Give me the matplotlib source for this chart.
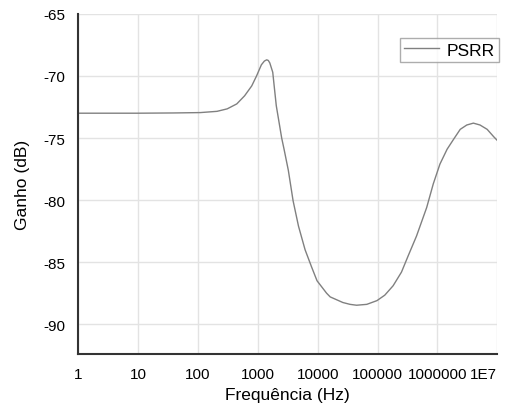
import matplotlib
matplotlib.use("Agg")
import matplotlib.pyplot as plt
from matplotlib.ticker import NullLocator

plt.rcParams['font.family'] = ['Liberation Sans', 'DejaVu Sans']
plt.rcParams['axes.unicode_minus'] = False

# PSRR frequency response
freq_hz = [1, 10, 39.8, 110, 209, 309, 447, 603, 794, 955, 1150, 1290, 1410,
           1500, 1590, 1780, 1900, 2040, 2510, 2750, 3240, 3890, 4790, 6170,
           7940, 9770, 14100, 16200, 22400, 26300, 34700, 44700, 66100, 97700,
           132000, 182000, 251000, 324000, 447000, 661000, 851000, 1100000,
           1450000, 1860000, 2400000, 3090000, 3980000, 5130000, 6760000,
           8710000, 10000000]
gain_db = [-73.0, -73.0, -72.98, -72.95, -72.85, -72.65, -72.25, -71.6, -70.8,
           -70.0, -69.1, -68.8, -68.7, -68.75, -68.95, -69.7, -71.0, -72.4,
           -75.0, -75.9, -77.6, -80.05, -82.1, -84.0, -85.4, -86.5, -87.5,
           -87.8, -88.1, -88.25, -88.4, -88.47, -88.4, -88.1, -87.66, -86.9,
           -85.8, -84.5, -82.9, -80.6, -78.7, -77.1, -75.9, -75.1, -74.3,
           -73.95, -73.8, -73.95, -74.3, -74.9, -75.2]

x_ticks = [1, 10, 100, 1000, 10000, 100000, 1000000, 10000000]
x_tick_labels = ["1", "10", "100", "1000", "10000", "100000", "1000000", "1E7"]
y_ticks = [-90, -85, -80, -75, -70, -65]

fig = plt.figure(figsize=(5.10, 4.14), dpi=100)
ax = fig.add_axes([0.153, 0.1425, 0.8222, 0.8215])

ax.plot(freq_hz, gain_db, color='#808080', linewidth=1.0, label='PSRR')

ax.set_xscale('log')
ax.set_xlim(1, 1e7)
ax.set_ylim(-92.4, -65)
ax.set_xticks(x_ticks)
ax.set_xticklabels(x_tick_labels)
ax.xaxis.set_minor_locator(NullLocator())
ax.set_yticks(y_ticks)
ax.get_xticklabels()[-1].set_horizontalalignment('right')

ax.grid(True, color='#e3e3e3', linewidth=1.0)
ax.set_axisbelow(True)
ax.tick_params(axis='both', length=0, labelsize=11, pad=9, labelcolor='black')

for side in ('top', 'right'):
    ax.spines[side].set_visible(False)
for side in ('left', 'bottom'):
    ax.spines[side].set_color('#333333')
    ax.spines[side].set_linewidth(1.5)

ax.set_xlabel('Frequência (Hz)', fontsize=12.5, labelpad=5)
ax.set_ylabel('Ganho (dB)', fontsize=12.5, labelpad=10)

leg = ax.legend(loc='upper right', bbox_to_anchor=(1.003, 0.929), borderaxespad=0,
                fontsize=12.5, frameon=True, fancybox=False, handlelength=2.0,
                handletextpad=0.4, borderpad=0.25)
leg.get_frame().set_edgecolor('#999999')
leg.get_frame().set_linewidth(1.0)

fig.savefig('out.png', dpi=100)
